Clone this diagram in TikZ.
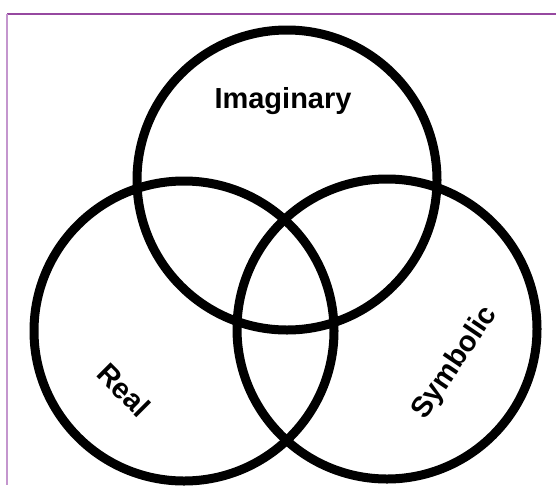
\documentclass[tikz,border=0pt]{standalone}
\usepackage{fontspec}
\setmainfont{Liberation Sans}
\usetikzlibrary{positioning}

\definecolor{framepurple}{RGB}{150,72,160}
\definecolor{framelilac}{RGB}{196,150,206}

\begin{document}
\begin{tikzpicture}[
    x=1pt, y=1pt,
    ring/.style={draw=black, circle, line width=9pt, minimum size=300pt, inner sep=0pt},
    lbl/.style={font=\fontsize{29}{29}\selectfont\bfseries, inner sep=0pt}
]
    \useasboundingbox (0,0) rectangle (556,-485);

    % Frame lines
    \coordinate (corner) at (7,-14);
    \draw[framepurple, line width=1.5pt] (corner) -- (556,-14);
    \draw[framelilac, line width=1.5pt] (corner) -- (7,-485);

    % The three rings
    \node[ring] (imag) at (287,-180) {};
    \node[ring] (real) at (184,-331) {};
    \node[ring] (symb) at (387,-329) {};

    % Labels
    \node[lbl] (imaglbl) at (283,-101) {Imaginary};
    \node[lbl, rotate=-45] (reallbl) at (124,-390) {Real};
    \node[lbl, rotate=56] (symblbl) at (455,-363) {Symbolic};

\end{tikzpicture}
\end{document}
